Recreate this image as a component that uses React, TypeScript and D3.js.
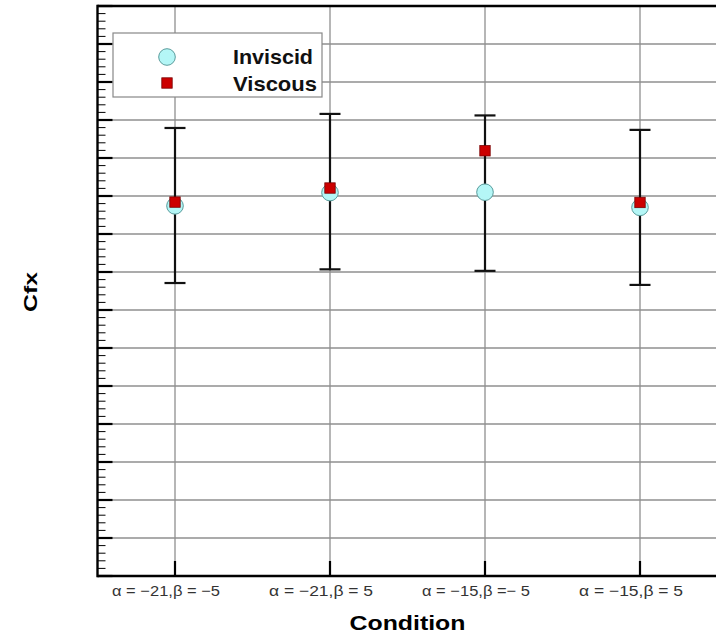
import React from "react";
import * as d3 from "d3";

const categories = ["α = −21,β = −5", "α = −21,β = 5", "α = −15,β =− 5", "α = −15,β = 5"];
const inviscid = [0.0974, 0.1009, 0.101, 0.097];
const viscous = [0.0984, 0.1021, 0.1119, 0.0983];
const errLow = [0.0771, 0.0807, 0.0803, 0.0766];
const errHigh = [0.1179, 0.1216, 0.1212, 0.1174];
const seriesNames = ["Inviscid", "Viscous"];

const W = 716;
const H = 636;
const L = 97.5;
const R = 717.5;
const T = 6;
const B = 576;

export default function App() {
  const x = d3.scaleLinear().domain([0.5, 4.5]).range([L, R]);
  const y = d3.scaleLinear().domain([0, 0.15]).range([B, T]);
  const majors = d3.range(0, 16).map((i) => i * 0.01);
  const minors = d3.range(0, 76).filter((i) => i % 5 !== 0).map((i) => i * 0.002);
  const font = "'Liberation Sans', Arial, Helvetica, sans-serif";

  return (
    <svg
      width={W}
      height={H}
      style={{ position: "absolute", left: 0, top: 0, background: "#fff" }}
      fontFamily={font}
    >
      <rect x={0} y={0} width={W} height={H} fill="#fff" />
      {/* horizontal grid */}
      {majors.map((v, i) => (
        <line key={"gy" + i} x1={L} x2={R} y1={y(v)} y2={y(v)} stroke="#8f8f8f" strokeWidth={1.3} />
      ))}
      {/* vertical grid */}
      {categories.map((c, i) => (
        <line key={"gx" + i} x1={x(i + 1)} x2={x(i + 1)} y1={T} y2={B} stroke="#8f8f8f" strokeWidth={1.3} />
      ))}
      {/* error bars */}
      {categories.map((c, i) => (
        <g key={"eb" + i} stroke="#111" strokeWidth={2.2}>
          <line x1={x(i + 1)} x2={x(i + 1)} y1={y(errLow[i])} y2={y(errHigh[i])} />
          <line x1={x(i + 1) - 10.5} x2={x(i + 1) + 10.5} y1={y(errLow[i])} y2={y(errLow[i])} />
          <line x1={x(i + 1) - 10.5} x2={x(i + 1) + 10.5} y1={y(errHigh[i])} y2={y(errHigh[i])} />
        </g>
      ))}
      {/* inviscid */}
      {inviscid.map((v, i) => (
        <circle key={"c" + i} cx={x(i + 1)} cy={y(v)} r={8.3} fill="#b4f6f6" stroke="#5a9c9c" strokeWidth={1} />
      ))}
      {/* viscous */}
      {viscous.map((v, i) => (
        <rect key={"s" + i} x={x(i + 1) - 5.2} y={y(v) - 5.2} width={10.4} height={10.4} fill="#cc0000" stroke="#7a0000" strokeWidth={0.8} />
      ))}
      {/* left ticks */}
      {majors.map((v, i) => (
        <line key={"mt" + i} x1={L} x2={L + 15} y1={y(v)} y2={y(v)} stroke="#000" strokeWidth={2.2} />
      ))}
      {minors.map((v, i) => (
        <line key={"nt" + i} x1={L} x2={L + 8} y1={y(v)} y2={y(v)} stroke="#000" strokeWidth={1} />
      ))}
      {/* bottom ticks */}
      {categories.map((c, i) => (
        <line key={"bt" + i} x1={x(i + 1)} x2={x(i + 1)} y1={B} y2={B - 15} stroke="#000" strokeWidth={2.2} />
      ))}
      {/* frame */}
      <line x1={L} x2={R} y1={T} y2={T} stroke="#000" strokeWidth={2.4} />
      <line x1={L} x2={R} y1={B} y2={B} stroke="#000" strokeWidth={2.4} />
      <line x1={L} x2={L} y1={T - 1.2} y2={B + 1.2} stroke="#000" strokeWidth={2.4} />
      {/* legend */}
      <g>
        <rect x={113} y={33} width={209} height={64} fill="#fff" stroke="#888" strokeWidth={1.2} />
        <circle cx={167} cy={57} r={8.3} fill="#b4f6f6" stroke="#5a9c9c" strokeWidth={1} />
        <rect x={167 - 5.2} y={83 - 5.2} width={10.4} height={10.4} fill="#cc0000" stroke="#7a0000" strokeWidth={0.8} />
        <text x={313} y={64} textAnchor="end" fontSize={21} fontWeight="bold" fill="#111" textLength={80} lengthAdjust="spacingAndGlyphs">
          {seriesNames[0]}
        </text>
        <text x={317} y={90.5} textAnchor="end" fontSize={21} fontWeight="bold" fill="#111" textLength={84} lengthAdjust="spacingAndGlyphs">
          {seriesNames[1]}
        </text>
      </g>
      {/* x tick labels */}
      {categories.map((c, i) => (
        <text
          key={"xl" + i}
          x={x(i + 1) - 9}
          y={596}
          textAnchor="middle"
          fontSize={15}
          fill="#333"
          textLength={i === 1 || i === 3 ? 104 : 108}
          lengthAdjust="spacingAndGlyphs"
        >
          {c}
        </text>
      ))}
      {/* axis titles */}
      <text x={407.5} y={629.5} textAnchor="middle" fontSize={21} fontWeight="bold" fill="#000" textLength={116} lengthAdjust="spacingAndGlyphs">
        Condition
      </text>
      <text
        transform="translate(36.5,292) rotate(-90)"
        textAnchor="middle"
        fontSize={19}
        fontWeight="bold"
        fill="#000"
        textLength={40}
        lengthAdjust="spacingAndGlyphs"
      >
        Cfx
      </text>
    </svg>
  );
}
